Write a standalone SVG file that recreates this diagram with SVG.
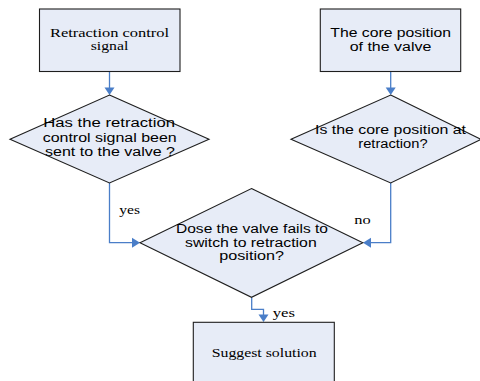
<svg xmlns="http://www.w3.org/2000/svg" width="480" height="381" viewBox="0 0 480 381">
  <style>
    .shape { fill: #E7ECF7; stroke: #1E1E1E; stroke-width: 1.1; }
    .link { fill: none; stroke: #4A7EC8; stroke-width: 1.3; }
    .head { fill: #4A7EC8; }
    .sans { font-family: "Liberation Sans", Arial, sans-serif; font-size: 12.3px; fill: #000; }
    .serif { font-family: "Liberation Serif", "Times New Roman", serif; font-size: 12.8px; fill: #000; }
  </style>
  <rect width="480" height="381" fill="#FFFFFF"/>

  <g id="connectors">
    <path class="link" d="M109.5,72 V89"/>
    <path class="head" d="M104.5,87.5 L114.5,87.5 L109.5,95 Z"/>
    <path class="link" d="M390.7,72 V89"/>
    <path class="head" d="M385.7,87.5 L395.7,87.5 L390.7,95 Z"/>
    <path class="link" d="M109.5,183 V242.7 H133"/>
    <path class="head" d="M132,237.7 L132,247.7 L140,242.7 Z"/>
    <path class="link" d="M390.7,183 V242.7 H370"/>
    <path class="head" d="M371,237.7 L371,247.7 L363,242.7 Z"/>
    <path class="link" d="M251.7,297.5 V309.3 H263.5 V315.5"/>
    <path class="head" d="M258.5,314.5 L268.5,314.5 L263.5,322 Z"/>
  </g>

  <g id="node-signal">
    <rect class="shape" x="39.5" y="9" width="140.5" height="62.5"/>
    <text class="serif" x="50" y="36.5" textLength="119" lengthAdjust="spacingAndGlyphs">Retraction  control</text>
    <text class="serif" x="90.7" y="50" textLength="37.6" lengthAdjust="spacingAndGlyphs">signal</text>
  </g>

  <g id="node-core">
    <rect class="shape" x="320.3" y="9" width="140.4" height="62.5"/>
    <text class="sans" x="330.3" y="37.3" textLength="120.7" lengthAdjust="spacingAndGlyphs">The core position</text>
    <text class="sans" x="349.7" y="50.7" textLength="81.6" lengthAdjust="spacingAndGlyphs">of the valve</text>
  </g>

  <g id="node-sent">
    <polygon class="shape" points="109.5,95 209,139.3 109.5,183 10,139.3"/>
    <text class="sans" x="43.3" y="127.3" textLength="131.7" lengthAdjust="spacingAndGlyphs">Has  the retraction</text>
    <text class="sans" x="42.7" y="141.5" textLength="134" lengthAdjust="spacingAndGlyphs">control signal been</text>
    <text class="sans" x="45" y="155.6" textLength="130" lengthAdjust="spacingAndGlyphs">sent to the valve ?</text>
  </g>

  <g id="node-position">
    <polygon class="shape" points="390.7,95 481,139.3 390.7,183 291,139.3"/>
    <text class="sans" x="315" y="134" textLength="151" lengthAdjust="spacingAndGlyphs">Is the core position at</text>
    <text class="sans" x="358.3" y="148.3" textLength="69.3" lengthAdjust="spacingAndGlyphs">retraction?</text>
  </g>

  <g id="node-fail">
    <polygon class="shape" points="251.5,188.5 362.8,242.7 251.5,297.3 140,242.7"/>
    <text class="sans" x="176" y="232.7" textLength="152" lengthAdjust="spacingAndGlyphs">Dose the valve fails to</text>
    <text class="sans" x="185" y="246.7" textLength="131.7" lengthAdjust="spacingAndGlyphs">switch to retraction</text>
    <text class="sans" x="219.3" y="260" textLength="64.7" lengthAdjust="spacingAndGlyphs">position?</text>
  </g>

  <g id="node-solution">
    <rect class="shape" x="193.3" y="322.3" width="141" height="70"/>
    <text class="serif" x="211.7" y="356.7" textLength="105" lengthAdjust="spacingAndGlyphs">Suggest solution</text>
  </g>

  <g id="labels">
    <text class="serif" x="119.3" y="214" textLength="20.7" lengthAdjust="spacingAndGlyphs">yes</text>
    <text class="serif" x="354.3" y="224" textLength="16.4" lengthAdjust="spacingAndGlyphs">no</text>
    <text class="serif" x="272.7" y="316.7" textLength="22.3" lengthAdjust="spacingAndGlyphs">yes</text>
  </g>
</svg>
